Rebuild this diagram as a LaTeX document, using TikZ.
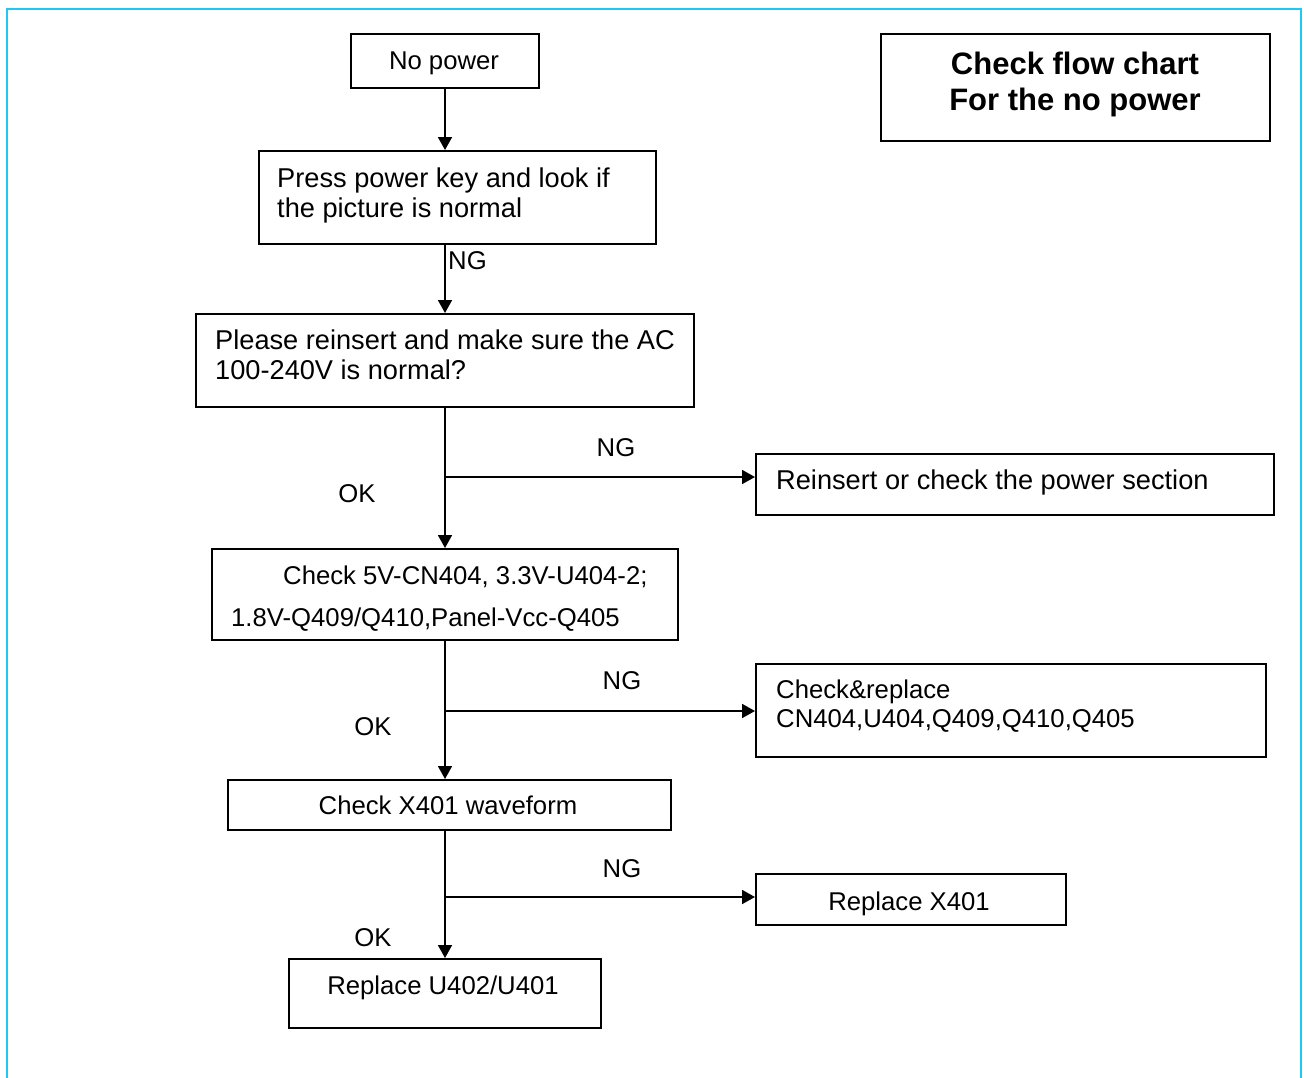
\documentclass[tikz,border=0pt]{standalone}
\usepackage{fontspec}
\setmainfont{Liberation Sans}
\usetikzlibrary{arrows.meta}
\definecolor{frame}{RGB}{30,200,240}
\tikzset{
  box/.style={draw, line width=1.8pt, inner sep=0pt, anchor=north west},
  txt/.style={inner sep=0pt, font=\fontsize{25.7}{30}\selectfont},
  bigtxt/.style={inner sep=0pt, font=\fontsize{27.2}{31}\selectfont},
  ttl/.style={inner sep=0pt, font=\fontsize{31}{36}\selectfont\bfseries},
  arr/.style={line width=1.8pt, -{Triangle[length=13pt,width=14pt]}},
}
\begin{document}
\begin{tikzpicture}[x=1pt,y=-1pt]
\useasboundingbox (0,0) rectangle (1304,1077);
\draw[frame, line width=2.2pt] (7,1085) -- (7,9) -- (1301,9) -- (1301,1085);

% boxes
\node[box, minimum width=188pt, minimum height=54pt] (b1) at (350,33) {};
\node[box, minimum width=389pt, minimum height=107pt] (tt) at (880,33) {};
\node[box, minimum width=397pt, minimum height=93pt] (b2) at (258,150) {};
\node[box, minimum width=498pt, minimum height=93pt] (b3) at (195,313) {};
\node[box, minimum width=518pt, minimum height=61pt] (r1) at (755,453) {};
\node[box, minimum width=466pt, minimum height=91pt] (b4) at (211,548) {};
\node[box, minimum width=510pt, minimum height=93pt] (r2) at (755,663) {};
\node[box, minimum width=443pt, minimum height=50pt] (b5) at (227,779) {};
\node[box, minimum width=310pt, minimum height=51pt] (r3) at (755,873) {};
\node[box, minimum width=312pt, minimum height=69pt] (b6) at (288,958) {};

% texts
\node[txt, anchor=base] (t1) at (444,69) {No power};
\node[ttl, anchor=base] (tt1) at (1075,74) {Check flow chart};
\node[ttl, anchor=base] (tt2) at (1075,110) {For the no power};
\node[bigtxt, anchor=base west] (t2a) at (277,187) {Press power key and look if};
\node[bigtxt, anchor=base west] (t2b) at (277,217) {the picture is normal};
\node[bigtxt, anchor=base west] (t3a) at (215,349) {Please reinsert and make sure the AC};
\node[bigtxt, anchor=base west] (t3b) at (215,379) {100-240V is normal?};
\node[bigtxt, anchor=base west] (tr1) at (776,489) {Reinsert or check the power section};
\node[txt, anchor=base west] (t4a) at (283,584) {Check 5V-CN404, 3.3V-U404-2;};
\node[txt, anchor=base west] (t4b) at (231,626) {1.8V-Q409/Q410,Panel-Vcc-Q405};
\node[txt, anchor=base west] (tr2a) at (776,698) {Check\&replace};
\node[txt, anchor=base west] (tr2b) at (776,727) {CN404,U404,Q409,Q410,Q405};
\node[txt, anchor=base] (t5) at (448,814) {Check X401 waveform};
\node[txt, anchor=base] (tr3) at (909,910) {Replace X401};
\node[txt, anchor=base] (t6) at (443,994) {Replace U402/U401};

% labels
\node[txt, anchor=base west] (ng1) at (448,269) {NG};
\node[txt, anchor=base] (ng2) at (616,456) {NG};
\node[txt, anchor=base] (ok2) at (357,502) {OK};
\node[txt, anchor=base] (ng3) at (622,689) {NG};
\node[txt, anchor=base] (ok3) at (373,735) {OK};
\node[txt, anchor=base] (ng4) at (622,877) {NG};
\node[txt, anchor=base] (ok4) at (373,946) {OK};

% connectors
\coordinate (X) at (445,0);
\coordinate (j1) at (445,477);
\coordinate (j2) at (445,711);
\coordinate (j3) at (445,897);
\draw[arr] (b1.south -| X) -- (b2.north -| X);
\draw[arr] (b2.south -| X) -- (b3.north -| X);
\draw[arr] (b3.south -| X) -- (b4.north -| X);
\draw[arr] (j1) -- (r1.west |- j1);
\draw[arr] (b4.south -| X) -- (b5.north -| X);
\draw[arr] (j2) -- (r2.west |- j2);
\draw[arr] (b5.south -| X) -- (b6.north -| X);
\draw[arr] (j3) -- (r3.west |- j3);
\end{tikzpicture}
\end{document}
